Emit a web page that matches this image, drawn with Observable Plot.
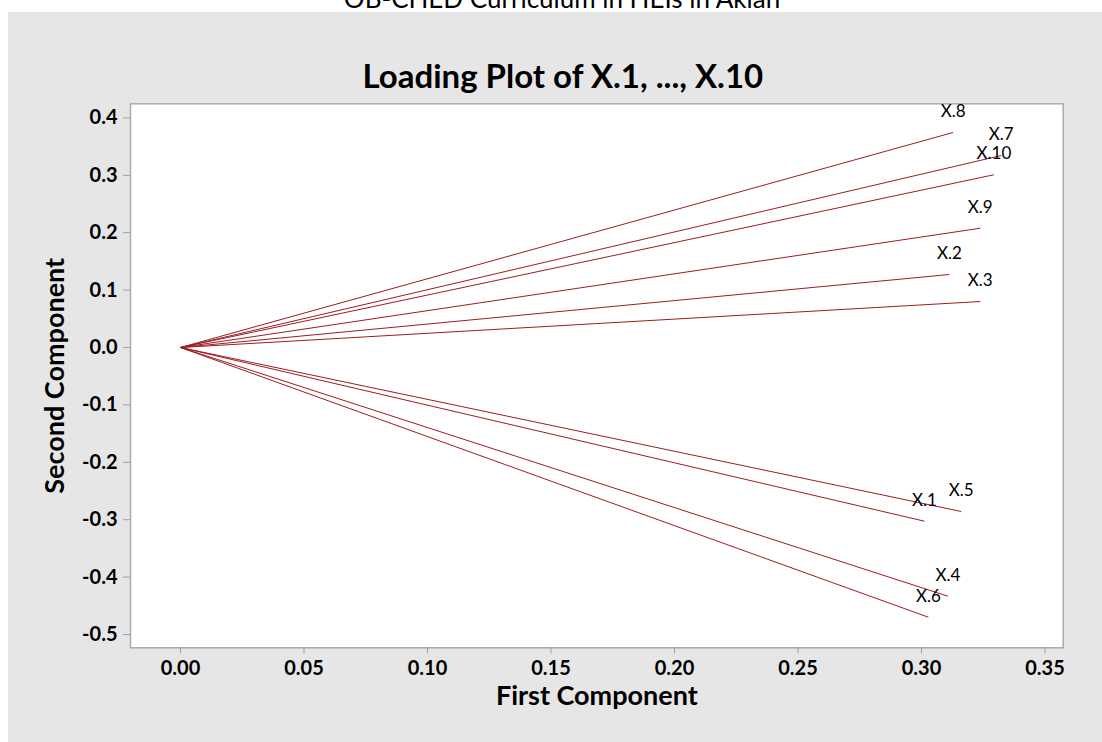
<!DOCTYPE html>
<html>
<head>
<meta charset="utf-8">
<script src="https://cdn.jsdelivr.net/npm/d3@7"></script>
<script src="https://cdn.jsdelivr.net/npm/@observablehq/plot@0.6"></script>
<style>
  html, body { margin: 0; padding: 0; background: #ffffff; width: 1102px; height: 742px; overflow: hidden; }
  #sub { position: absolute; left: 0; top: -15px; width: 1124px; text-align: center;
         font-family: Lato, sans-serif; font-size: 26px; line-height: 26px; color: #000; }
  #panel { position: absolute; left: 8px; top: 12px; width: 1094px; height: 730px; background: #e6e6e6; }
  #panel svg { position: absolute; left: 0; top: 0; }
</style>
</head>
<body>
<div id="sub">OB-CHED Curriculum in HEIs in Aklan</div>
<div id="panel"></div>
<script>
const variables = ["X.1", "X.2", "X.3", "X.4", "X.5", "X.6", "X.7", "X.8", "X.9", "X.10"];
const firstComponent  = [0.3012, 0.3113, 0.3238, 0.3107, 0.3161, 0.3028, 0.3323, 0.3128, 0.3238, 0.3293];
const secondComponent = [-0.3026, 0.1272, 0.0801, -0.4333, -0.2857, -0.4699, 0.3345, 0.3746, 0.2078, 0.3009];
const xTicks = [0, 0.05, 0.10, 0.15, 0.20, 0.25, 0.30, 0.35];
const yTicks = [-0.5, -0.4, -0.3, -0.2, -0.1, 0.0, 0.1, 0.2, 0.3, 0.4];
const chartTitle = "Loading Plot of X.1, ..., X.10";
const xTitle = "First Component";
const yTitle = "Second Component";

const rows = variables.map((v, i) => ({name: v, x: firstComponent[i], y: secondComponent[i]}));
const lineColor = "#9c1c20";
const axisGray = "#a0a0a0";

const chart = Plot.plot({
  width: 1094,
  height: 730,
  marginLeft: 122,
  marginRight: 39.3,
  marginTop: 91.3,
  marginBottom: 94.7,
  style: {fontFamily: "Lato, sans-serif", background: "transparent", color: "#000"},
  x: {domain: [-0.02024, 0.35737]},
  y: {domain: [-0.52317, 0.42456]},
  marks: [
    Plot.frame({fill: "#ffffff", stroke: "#ababab", strokeWidth: 1.5}),
    Plot.axisX({ticks: xTicks, tickFormat: d => d.toFixed(2), tickSize: 6, tickPadding: 7,
                fontSize: 20, fontWeight: 700, stroke: axisGray, fill: "#000", label: null}),
    Plot.axisY({ticks: yTicks, tickFormat: d => d.toFixed(1), tickSize: 7, tickPadding: 6,
                fontSize: 20, fontWeight: 700, stroke: axisGray, fill: "#000", label: null}),
    Plot.link(rows, {x1: () => 0, y1: () => 0, x2: "x", y2: "y", stroke: lineColor, strokeWidth: 1}),
    Plot.text(rows, {x: "x", y: "y", text: "name", dy: -21, fontSize: 17, fill: "#000"}),
    Plot.text([chartTitle], {frameAnchor: "top", text: d => d, textAnchor: "middle", dx: -34, dy: -39, fontSize: 33, fontWeight: 700, fill: "#000"}),
    Plot.text([xTitle], {frameAnchor: "bottom", text: d => d, textAnchor: "middle", dy: 57, fontSize: 27, fontWeight: 700, fill: "#000"}),
    Plot.text([yTitle], {frameAnchor: "left", text: d => d, textAnchor: "middle", dx: -75, rotate: -90, fontSize: 27, fontWeight: 700, fill: "#000"})
  ]
});
document.getElementById("panel").appendChild(chart);
</script>
</body>
</html>
